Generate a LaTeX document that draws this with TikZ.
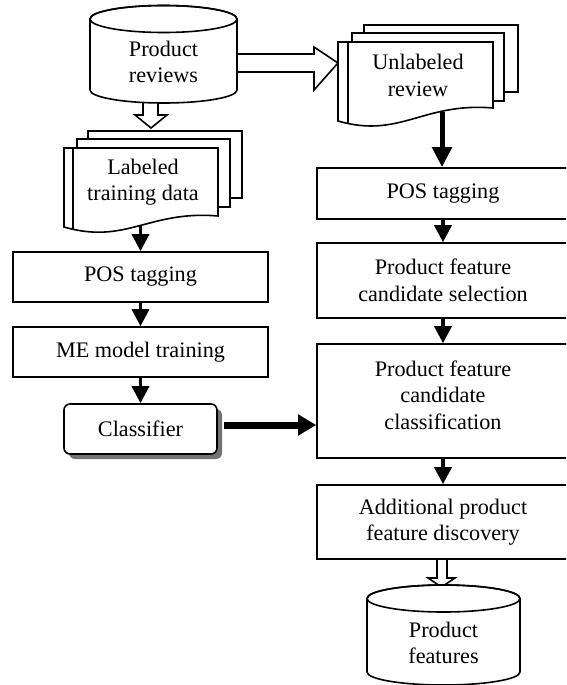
\documentclass[tikz,border=0pt]{standalone}
\usepackage{fontspec}
\setmainfont{Liberation Serif}
\usetikzlibrary{arrows.meta,shadows}
\begin{document}
\begin{tikzpicture}[x=1pt,y=-1pt,
  every node/.style={font=\fontsize{22.2}{26.5}\selectfont},
  txt/.style={align=center, inner sep=0pt},
  proc/.style={draw, line width=1.6pt, fill=white, inner sep=0pt, align=center},
  outline/.style={draw, line width=1.6pt, fill=white, line join=miter},
  flow/.style={line width=3.5pt, -{Triangle[length=17pt,width=17pt]}},
  bigflow/.style={line width=5pt, -{Triangle[length=20pt,width=19pt]}},
  thickflow/.style={line width=7pt, -{Triangle[length=18pt,width=20pt]}},
  shade/.style={drop shadow={shadow xshift=5pt, shadow yshift=-5pt, fill=black!55, opacity=1}}
]
\useasboundingbox (0,0) rectangle (566,685);
\clip (0,0) rectangle (566,685);

% hollow block arrows out of the review store
\draw[outline] (237,54) -- (314,54) -- (314,47) -- (338,63) -- (314,90) -- (314,72) -- (237,72) -- cycle;
\draw[outline] (143,95) -- (143,115) -- (135,115) -- (151,128) -- (167,115) -- (158,115) -- (158,95) -- cycle;

% store: Product reviews
\draw[outline] (90pt,-19pt) -- (90pt,-90pt)
  arc[start angle=180, end angle=360, x radius=73.5pt, y radius=13pt]
  -- (237pt,-19pt)
  arc[start angle=0, end angle=180, x radius=73.5pt, y radius=13.5pt] -- cycle;
\draw[line width=1.6pt] (163.5pt,-19pt) ellipse [x radius=73.5pt, y radius=13.5pt];
\node[txt] (prev) at (163.5,62) {Product\\reviews};

% stacked documents: Unlabeled review
\draw[outline] (364,25) rectangle (518,92);
\draw[outline] (352,33) rectangle (504,101);
\draw[outline] (338,42) -- (493,42) -- (493,108)
  .. controls (423,102) and (400,139) .. (338,121) -- cycle;
\begin{scope}
  \clip (338,42) -- (493,42) -- (493,108)
    .. controls (423,102) and (400,139) .. (338,121) -- cycle;
  \draw[line width=1.6pt] (348,40) -- (348,140);
\end{scope}
\node[txt] (unl) at (418,75.5) {Unlabeled\\review};
\coordinate (unlb) at (442,112);

% stacked documents: Labeled training data
\draw[outline] (88,131) rectangle (242,198);
\draw[outline] (77,139) rectangle (230,207);
\draw[outline] (64,148) -- (218,148) -- (218,216)
  .. controls (149,210) and (126,245) .. (64,227) -- cycle;
\begin{scope}
  \clip (64,148) -- (218,148) -- (218,216)
    .. controls (149,210) and (126,245) .. (64,227) -- cycle;
  \draw[line width=1.6pt] (73,146) -- (73,250);
\end{scope}
\node[txt] (lab) at (143,182) {Labeled\\training data};
\coordinate (labb) at (140.5,225);

% training branch
\node[proc, minimum width=255pt, minimum height=50pt] (lpos) at (140.5,277) {POS tagging};
\node[proc, minimum width=255pt, minimum height=50pt] (lme) at (140.5,352) {ME model training};
\node[proc, shade, rounded corners=6pt, minimum width=153pt, minimum height=50pt] (clf) at (140.5,429) {Classifier};

% extraction branch
\node[proc, minimum width=252pt, minimum height=51pt] (rpos) at (443,193.5) {POS tagging};
\node[proc, minimum width=252pt, minimum height=75pt] (sel) at (443,280.5) {Product feature\\candidate selection};
\node[proc, minimum width=252pt, minimum height=114pt] (cls) at (443,401) {Product feature\\candidate\\classification\\[-14pt]\mbox{}};
\node[proc, minimum width=252pt, minimum height=74pt] (add) at (443,522) {Additional product\\feature discovery};

% hollow arrow into the feature store
\draw[outline] (437,559) -- (437,578) -- (428,578) -- (441.5,587) -- (455,578) -- (447,578) -- (447,559) -- cycle;

% store: Product features
\draw[outline] (367pt,-598.5pt) -- (367pt,-672pt)
  arc[start angle=180, end angle=360, x radius=76.5pt, y radius=13pt]
  -- (520pt,-598.5pt)
  arc[start angle=0, end angle=180, x radius=76.5pt, y radius=13.5pt] -- cycle;
\draw[line width=1.6pt] (443.5pt,-598.5pt) ellipse [x radius=76.5pt, y radius=13.5pt];
\node[txt] (pfeat) at (443.5,643) {Product\\features};

% connectors
\draw[flow] (labb) -- (lpos.north);
\draw[flow] (lpos.south) -- (lme.north);
\draw[flow] (lme.south) -- (clf.north);
\draw[bigflow] (unlb) -- (unlb |- rpos.north);
\draw[flow] (rpos.south) -- (sel.north);
\draw[flow] (sel.south) -- (cls.north);
\draw[flow] (cls.south) -- (add.north);
\coordinate (cfa) at ([xshift=6pt,yshift=4pt]clf.east);
\coordinate (cfb) at (cfa -| cls.west);
\draw[thickflow] (cfa) -- (cfb);
\end{tikzpicture}
\end{document}
